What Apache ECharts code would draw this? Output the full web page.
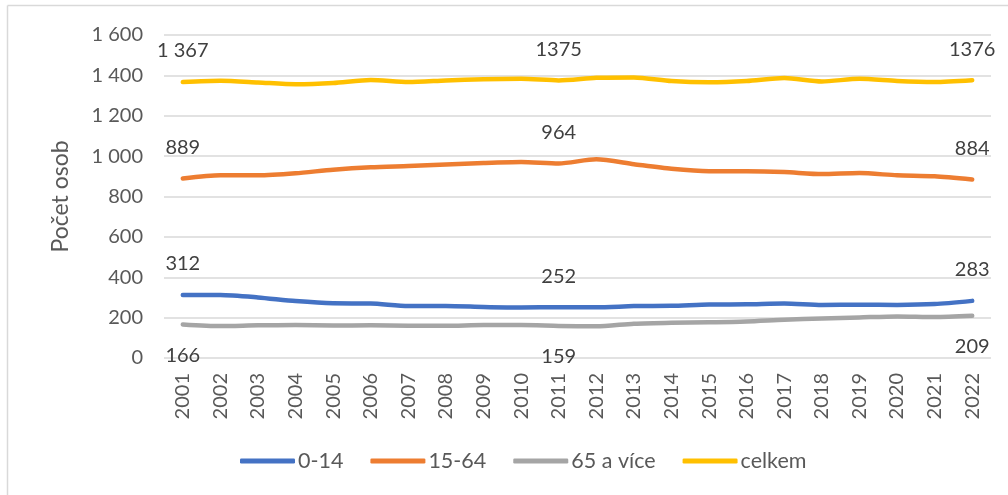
<!DOCTYPE html>
<html>
<head>
<meta charset="utf-8">
<script src="https://cdn.jsdelivr.net/npm/echarts@6/dist/echarts.min.js"></script>
<style>html,body{margin:0;padding:0;background:#fff;}#c{width:1008px;height:495px;}</style>
</head>
<body>
<div id="c"></div>
<script>
const years = ['2001','2002','2003','2004','2005','2006','2007','2008','2009','2010','2011','2012','2013','2014','2015','2016','2017','2018','2019','2020','2021','2022'];
const age0_14 = [312,312,300,282,271,270,258,258,253,250,252,251,257,259,265,266,270,263,264,263,267,283];
const age15_64 = [889,905,905,915,933,945,951,958,966,971,964,984,960,937,925,925,921,911,916,905,900,884];
const age65plus = [166,158,162,163,161,162,160,160,163,163,159,157,170,175,177,181,190,196,201,206,203,209];
const total = [1367,1373,1365,1356,1362,1377,1367,1375,1381,1383,1375,1388,1390,1372,1366,1372,1387,1370,1383,1372,1367,1376];
const seriesNames = ['0-14','15-64','65 a více','celkem'];
const colors = ['#4472C4','#ED7D31','#A5A5A5','#FFC000'];
const labelIdx = [0,10,21];
const yTicks = {min:0, max:1600, interval:200};
const yName = 'Počet osob';

const FONT = 'Lato';
function fmt(v){ return String(v).replace(/\B(?=(\d{3})+(?!\d))/g,' '); }
function mk(arr, pos, first){
  return arr.map((v,i)=>{
    if(labelIdx.indexOf(i) >= 0){
      return {value:v, label:{show:true, position:pos, distance:21,
        formatter: (i===0 && first) ? fmt(v) : String(v)}};
    }
    return v;
  });
}
const datas = [mk(age0_14,'top',false), mk(age15_64,'top',false), mk(age65plus,'bottom',false), mk(total,'top',true)];

const chart = echarts.init(document.getElementById('c'), null, {renderer:'canvas'});
chart.setOption({
  backgroundColor:'#fff',
  animation:false,
  textStyle:{fontFamily:FONT},
  grid:{left:164, right:17, top:35, bottom:137, containLabel:false},
  legend:{
    bottom:18, left:235,
    itemWidth:55, itemHeight:5, itemGap:27,
    icon:'roundRect',
    textStyle:{fontSize:21.5, color:'#595959', fontFamily:FONT, padding:[0,0,0,-2]},
    data:seriesNames.map((n,i)=>({name:n, itemStyle:{color:colors[i]}}))
  },
  xAxis:{
    type:'category', data:years, boundaryGap:true,
    axisLine:{show:false}, axisTick:{show:false},
    axisLabel:{rotate:90, fontSize:20, color:'#595959', margin:15, fontFamily:FONT, interval:0}
  },
  yAxis:{
    type:'value', min:yTicks.min, max:yTicks.max, interval:yTicks.interval,
    name:yName, nameLocation:'middle', nameGap:92, nameRotate:90,
    nameTextStyle:{fontSize:23, color:'#595959', fontFamily:FONT},
    axisLine:{show:false}, axisTick:{show:false},
    axisLabel:{fontSize:20, color:'#595959', margin:21, formatter:v=>fmt(v), fontFamily:FONT},
    splitLine:{lineStyle:{color:'#D9D9D9', width:1.5}}
  },
  series: seriesNames.map((n,i)=>({
    name:n, type:'line', data:datas[i], smooth:0.25,
    showSymbol:true, symbol:'circle', symbolSize:0.01,
    lineStyle:{color:colors[i], width:4.5, cap:'round', join:'round'},
    itemStyle:{color:colors[i]},
    label:{fontSize:20, color:'#404040', fontFamily:FONT},
    labelLayout:{hideOverlap:false},
    z: 2
  })),
  graphic:[
    {type:'line', shape:{x1:7.5, y1:5.5, x2:1008, y2:5.5}, style:{stroke:'#D9D9D9', lineWidth:1.5}, silent:true},
    {type:'line', shape:{x1:7.5, y1:5.5, x2:7.5, y2:495}, style:{stroke:'#D9D9D9', lineWidth:1.5}, silent:true}
  ]
});
</script>
</body>
</html>
